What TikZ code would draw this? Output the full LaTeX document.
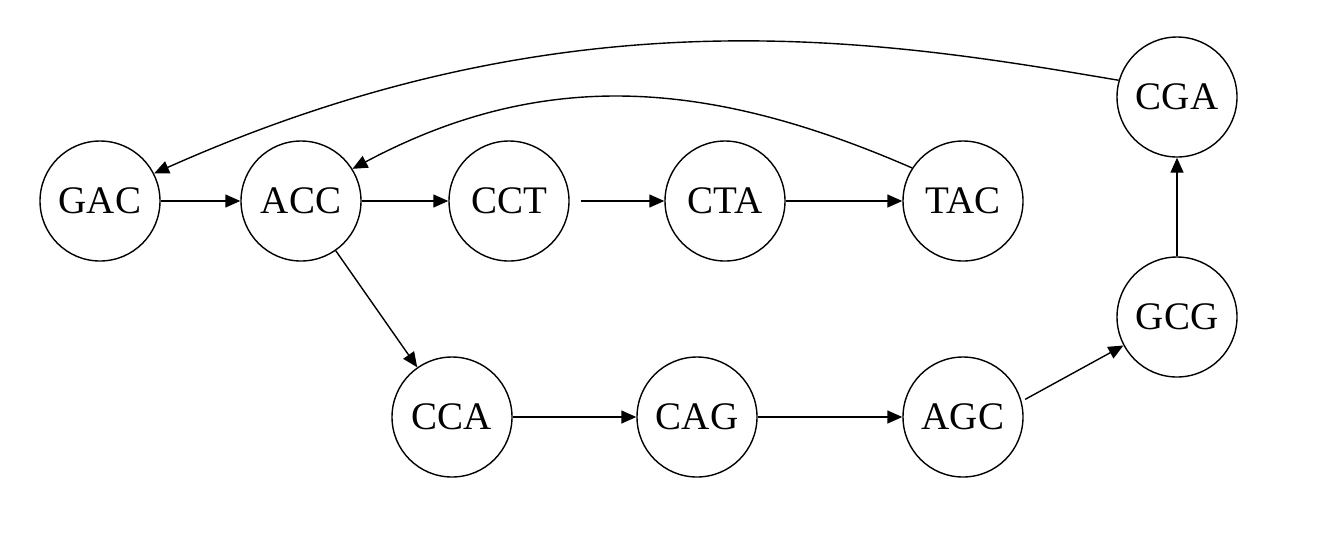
\documentclass[tikz,border=0pt]{standalone}
\usepackage{fontspec}
\setmainfont{Liberation Serif}
\usetikzlibrary{arrows.meta}
\begin{document}
\begin{tikzpicture}[x=1pt,y=-1pt,
  kmer/.style={circle,draw,line width=1.4pt,minimum size=120pt,inner sep=0pt,font=\fontsize{39}{40}\selectfont},
  edge/.style={line width=1.4pt,-{Triangle[length=15pt,width=13pt]}}]
\useasboundingbox (0,0) rectangle (1338,542);
\node[kmer] (GAC) at (100,201) {GAC};
\node[kmer] (ACC) at (301,201) {ACC};
\node[kmer] (CCT) at (509,201) {CCT};
\node[kmer] (CTA) at (725,201) {CTA};
\node[kmer] (TAC) at (963,201) {TAC};
\node[kmer] (CGA) at (1177,97) {CGA};
\node[kmer] (GCG) at (1177,317) {GCG};
\node[kmer] (CCA) at (452,417) {CCA};
\node[kmer] (CAG) at (697,417) {CAG};
\node[kmer] (AGC) at (963,417) {AGC};
\draw[edge] (GAC) -- (ACC);
\draw[edge] (ACC) -- (CCT);
\draw[edge,shorten <=11pt] (CCT) -- (CTA);
\draw[edge] (CTA) -- (TAC);
\draw[edge] (ACC) -- (CCA);
\draw[edge] (CCA) -- (CAG);
\draw[edge] (CAG) -- (AGC);
\draw[edge,shorten <=4pt] (AGC.15) -- (GCG.208);
\draw[edge] (GCG) -- (CGA);
\draw[edge] (TAC.147) .. controls (709,79.5) and (543.5,67) .. (ACC.32);
\draw[edge] (CGA.164) .. controls (876,39) and (568,-11) .. (GAC.27);
\end{tikzpicture}
\end{document}
